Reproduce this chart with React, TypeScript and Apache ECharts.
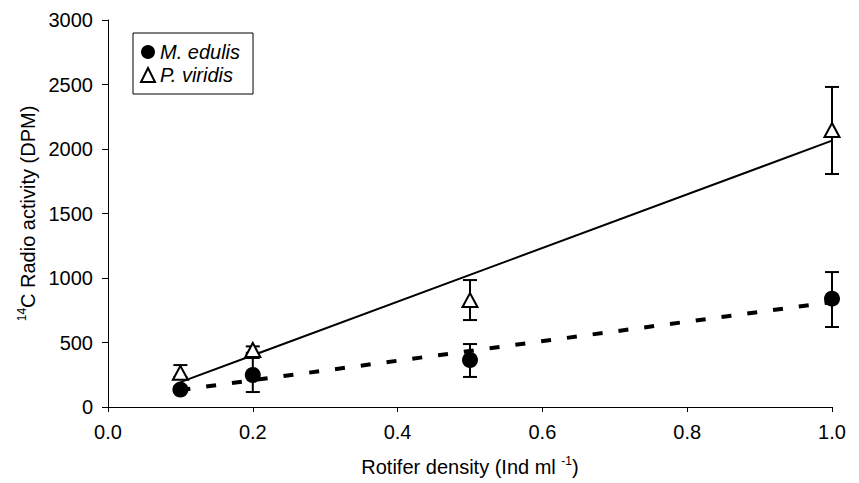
import React, { useEffect, useRef } from "react";
import * as echarts from "echarts";

const densities = [0.1, 0.2, 0.5, 1.0];
const edulisMean = [135, 248, 364, 840];
const edulisLow = [125, 116, 233, 620];
const edulisHigh = [145, 380, 488, 1046];
const viridisMean = [265, 442, 829, 2147];
const viridisLow = [230, 420, 674, 1806];
const viridisHigh = [325, 470, 984, 2481];
const xTicks = [0, 0.2, 0.4, 0.6, 0.8, 1.0];
const yTicks = [0, 500, 1000, 1500, 2000, 2500, 3000];

function fit(xs: number[], ys: number[]) {
  const n = xs.length;
  const mx = xs.reduce((a, b) => a + b, 0) / n;
  const my = ys.reduce((a, b) => a + b, 0) / n;
  let sxy = 0, sxx = 0;
  for (let i = 0; i < n; i++) {
    sxy += (xs[i] - mx) * (ys[i] - my);
    sxx += (xs[i] - mx) * (xs[i] - mx);
  }
  const slope = sxy / sxx;
  const b = my - slope * mx;
  const x0 = Math.min(...xs), x1 = Math.max(...xs);
  return [[x0, b + slope * x0], [x1, b + slope * x1]];
}

const FONT = "Liberation Sans, Arial, sans-serif";
const FS = 20;

function errorSeries(low: number[], high: number[]) {
  return {
    type: "custom",
    z: 2,
    silent: true,
    data: densities.map((d, i) => [d, low[i], high[i]]),
    encode: { x: 0, y: [1, 2] },
    renderItem: (params: any, api: any) => {
      const x = api.value(0);
      const lo = api.coord([x, api.value(1)]);
      const hi = api.coord([x, api.value(2)]);
      const hw = 7;
      const st = { stroke: "#000", lineWidth: 2 };
      return {
        type: "group",
        children: [
          { type: "line", shape: { x1: hi[0], y1: hi[1], x2: lo[0], y2: lo[1] }, style: st },
          { type: "line", shape: { x1: hi[0] - hw, y1: hi[1], x2: hi[0] + hw, y2: hi[1] }, style: st },
          { type: "line", shape: { x1: lo[0] - hw, y1: lo[1], x2: lo[0] + hw, y2: lo[1] }, style: st },
        ],
      };
    },
  };
}

export default function App() {
  const ref = useRef<HTMLDivElement>(null);
  useEffect(() => {
    if (!ref.current) return;
    const chart = echarts.init(ref.current, null, { renderer: "svg" });
    const supRich = { sup: { fontSize: 12, verticalAlign: "top", padding: [0, 0, 12, 0], color: "#000", fontFamily: FONT } };
    chart.setOption({
      animation: false,
      backgroundColor: "#fff",
      textStyle: { fontFamily: FONT },
      grid: { left: 108, right: 27, top: 20, bottom: 76, containLabel: false },
      legend: {
        left: 133,
        top: 33,
        orient: "vertical",
        data: ["M. edulis", "P. viridis"],
        borderColor: "#000",
        borderWidth: 1,
        padding: [9, 13, 9, 7],
        itemGap: 3,
        itemWidth: 14,
        itemHeight: 14,
        textStyle: { fontSize: FS, fontStyle: "italic", color: "#000", fontFamily: FONT },
      },
      xAxis: {
        type: "value",
        min: 0,
        max: 1,
        interval: 0.2,
        name: "Rotifer density (Ind ml {sup|-1})",
        nameLocation: "middle",
        nameGap: 48,
        nameTextStyle: { fontSize: FS, color: "#000", fontFamily: FONT, rich: supRich },
        axisLine: { lineStyle: { color: "#000", width: 1 } },
        axisTick: { inside: false, length: 5, lineStyle: { color: "#000" } },
        axisLabel: {
          fontSize: FS,
          color: "#000",
          margin: 15,
          fontFamily: FONT,
          formatter: (v: number) => (xTicks.some((t) => Math.abs(t - v) < 1e-9) ? v.toFixed(1) : ""),
        },
        splitLine: { show: false },
      },
      yAxis: {
        type: "value",
        min: 0,
        max: 3000,
        interval: 500,
        name: "{sup|14}C Radio activity (DPM)",
        nameLocation: "middle",
        nameGap: 63,
        nameRotate: 90,
        nameTextStyle: { fontSize: FS, color: "#000", fontFamily: FONT, rich: supRich },
        axisLine: { show: true, lineStyle: { color: "#000", width: 1 } },
        axisTick: { show: true, inside: false, length: 6, lineStyle: { color: "#000" } },
        axisLabel: {
          fontSize: FS,
          color: "#000",
          margin: 15,
          fontFamily: FONT,
          formatter: (v: number) => (yTicks.includes(v) ? String(v) : ""),
        },
        splitLine: { show: false },
      },
      series: [
        {
          name: "viridisFit",
          type: "line",
          data: fit(densities, viridisMean),
          showSymbol: false,
          symbol: "none",
          lineStyle: { color: "#000", width: 2 },
          z: 1,
          silent: true,
        },
        {
          name: "edulisFit",
          type: "line",
          data: fit(densities, edulisMean),
          showSymbol: false,
          symbol: "none",
          lineStyle: { color: "#000", width: 4, type: [10, 16] },
          z: 1,
          silent: true,
        },
        errorSeries(viridisLow, viridisHigh),
        errorSeries(edulisLow, edulisHigh),
        {
          name: "M. edulis",
          type: "scatter",
          data: densities.map((d, i) => [d, edulisMean[i]]),
          symbol: "circle",
          symbolSize: 16,
          itemStyle: { color: "#000", opacity: 1 },
          z: 5,
        },
        {
          name: "P. viridis",
          type: "scatter",
          data: densities.map((d, i) => [d, viridisMean[i]]),
          symbol: "triangle",
          symbolSize: [15, 14],
          itemStyle: { color: "#fff", borderColor: "#000", borderWidth: 2, opacity: 1 },
          z: 5,
        },
      ],
    });
    return () => chart.dispose();
  }, []);
  return <div ref={ref} style={{ width: 859, height: 483, position: "absolute", left: 0, top: 0 }} />;
}
